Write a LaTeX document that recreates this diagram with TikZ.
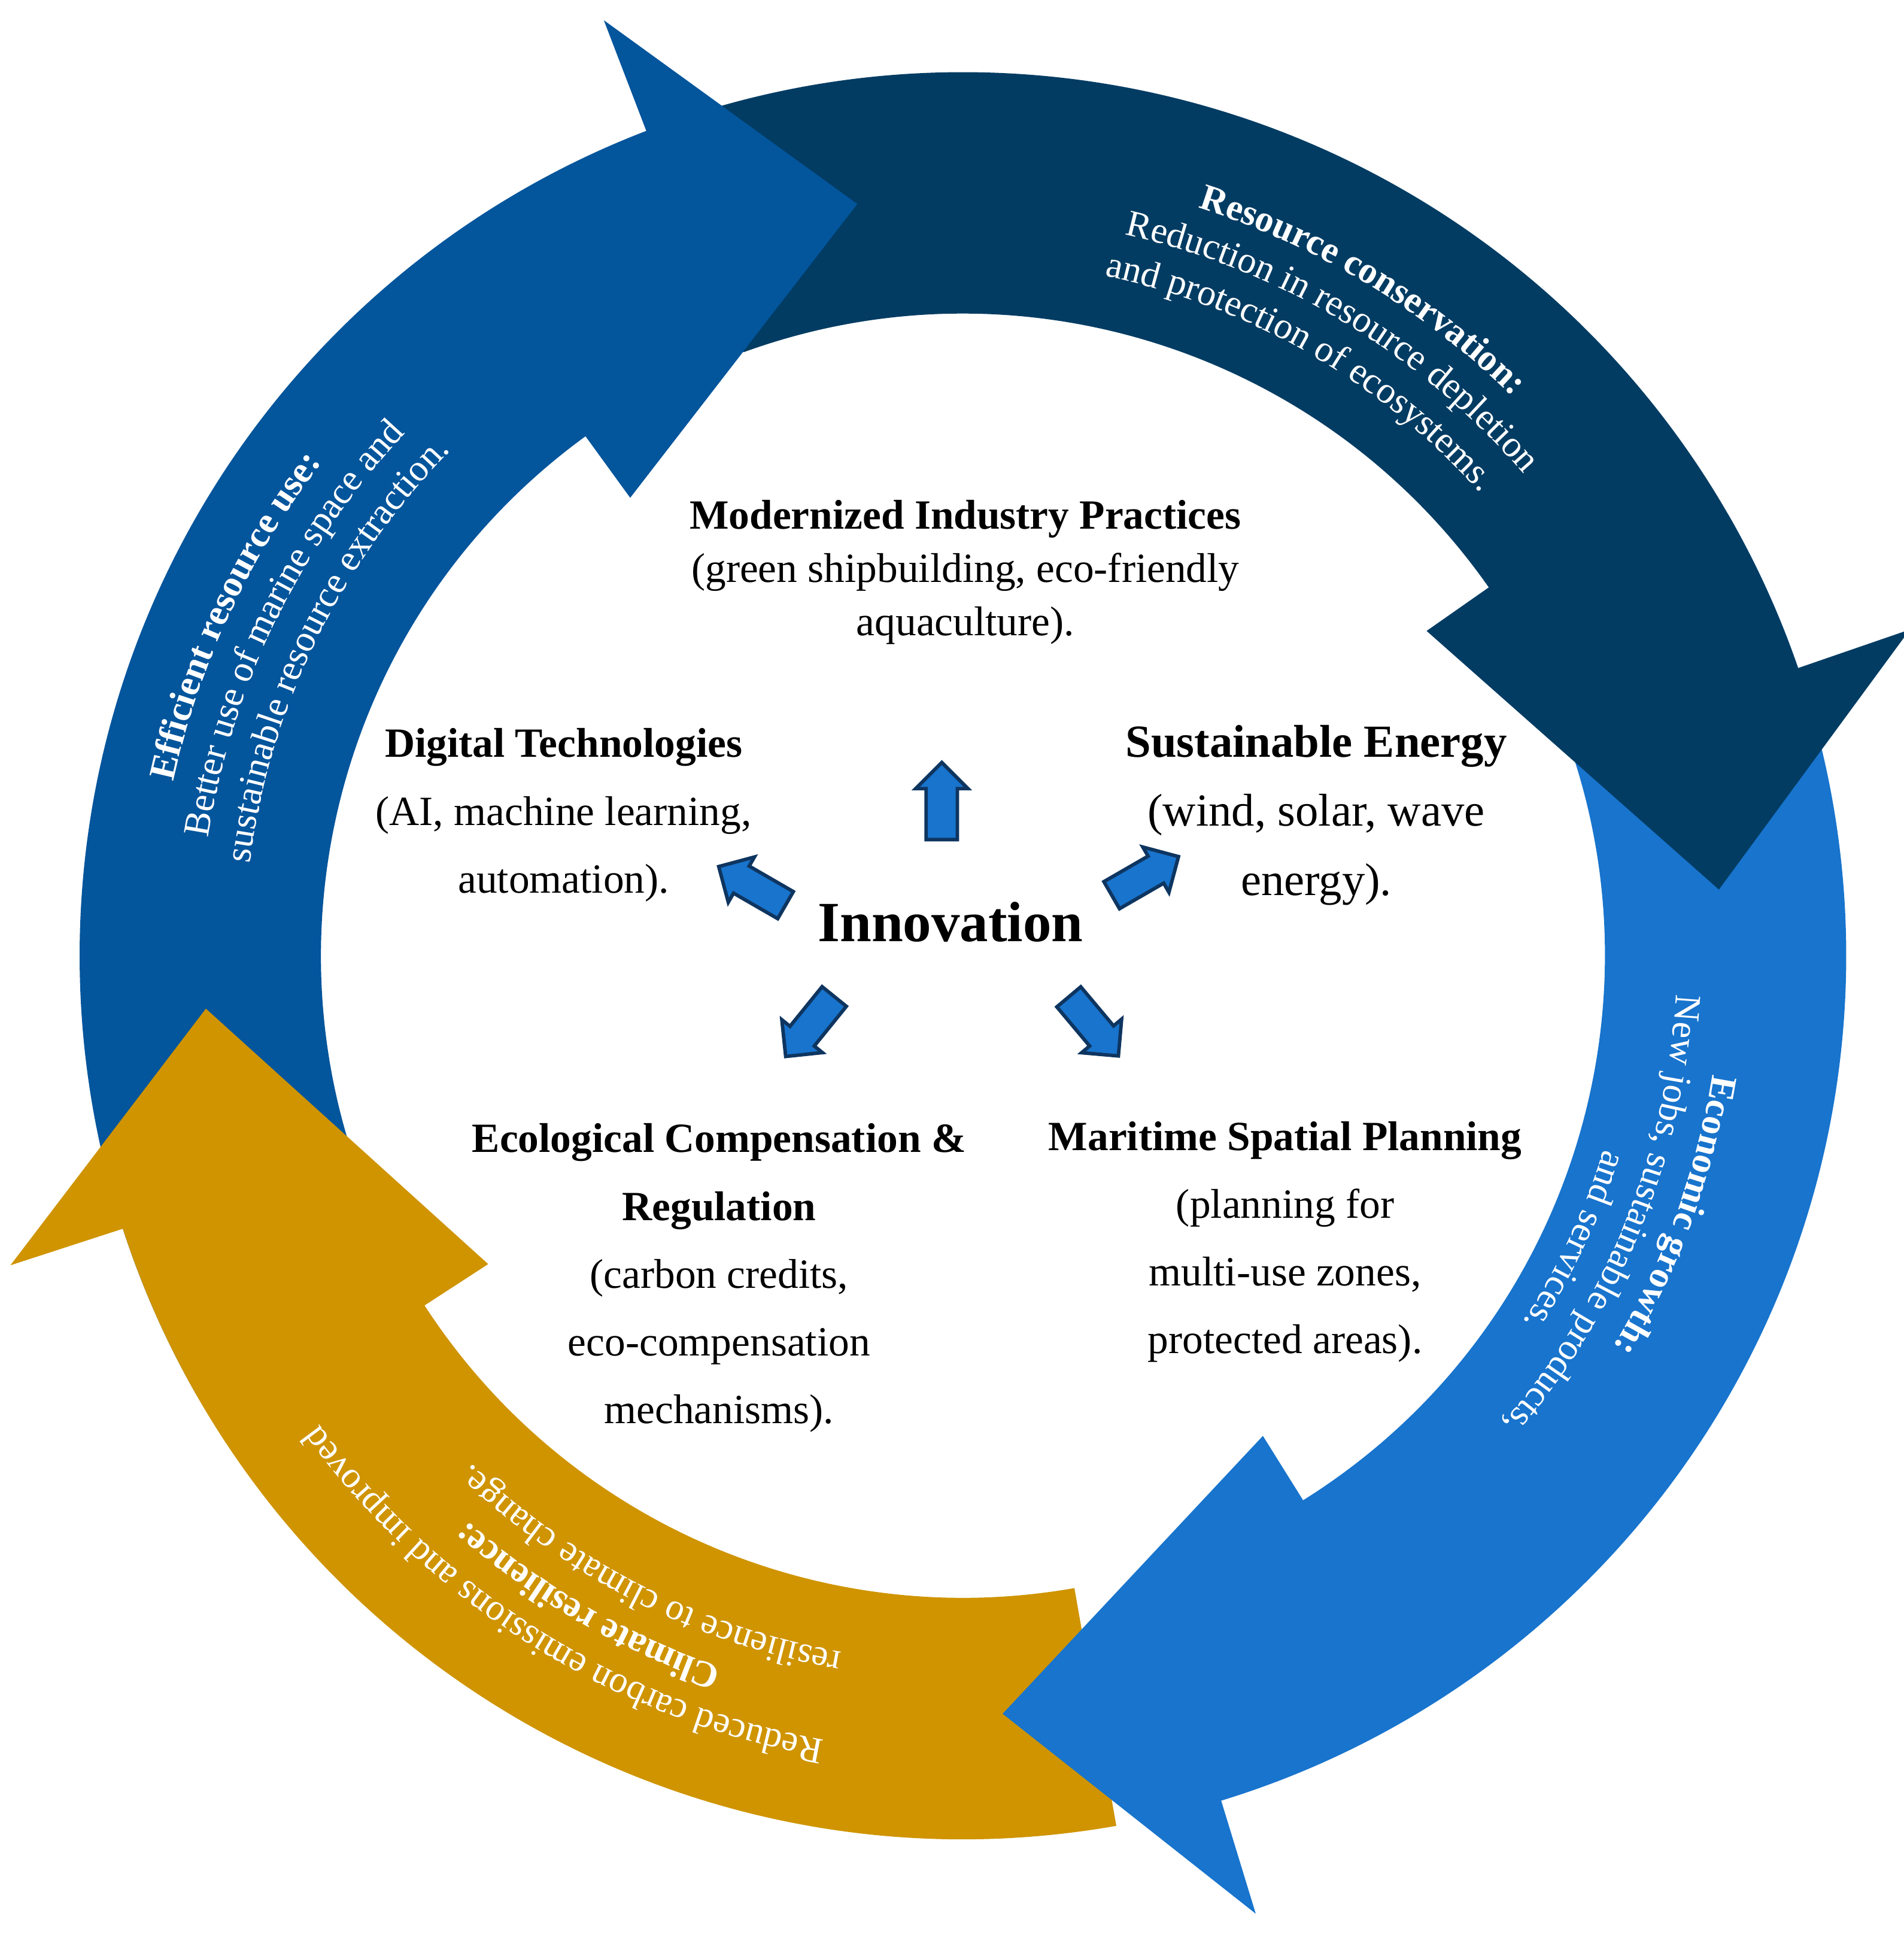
\documentclass[tikz,border=0pt]{standalone}
\usepackage{fontspec}
\setmainfont{Liberation Serif}
\usetikzlibrary{shapes.arrows,decorations.text}

\definecolor{navyblue}{HTML}{023C63}
\definecolor{midblue}{HTML}{03559C}
\definecolor{brightblue}{HTML}{1874CD}
\definecolor{goldbrown}{HTML}{CF9400}
\definecolor{arrowline}{HTML}{0E3560}

\def\Ro{7.1}\def\Ri{5.16}\def\Ho{8.05}\def\Hi{4.55}\def\Rt{6.1}
% ring piece: colour, start angle, outer base angle, inner base angle, tip angle
\newcommand{\ringarrow}[5]{%
  \fill[#1] (#2:\Ro) arc[start angle=#2, end angle=#3, radius=\Ro] -- (#3:\Ho) -- (#5:\Rt)
    -- (#4:\Hi) -- (#4:\Ri) arc[start angle=#4, end angle=#2, radius=\Ri] -- cycle;}
% text along the ring: radius, middle angle, text
\newcommand{\ringtext}[3]{%
  \path[decorate, decoration={text along path, text align=center, text color=white,
    text={#3}}] (#2+50:#1) arc[start angle=#2+50, end angle=#2-50, radius=#1];}

\begin{document}
\begin{tikzpicture}[
    every node/.style={align=center, inner sep=0pt},
    box/.style={font=\fontsize{9.5}{15.5}\selectfont},
    pointer/.style={single arrow, draw=arrowline, thick, fill=brightblue, minimum height=0.62cm,
      minimum width=0.42cm, single arrow head extend=0.07cm, inner sep=0.09cm}]
  \useasboundingbox (-7.74,-7.99) rectangle (7.56,7.68);

  \ringarrow{midblue}{210}{111}{126}{98}
  \ringarrow{goldbrown}{280}{198}{213}{184}
  \ringarrow{brightblue}{30}{-73}{-58}{-87}
  \ringarrow{navyblue}{110}{19}{35}{5}
  \fill[midblue] (111:\Ro) -- (111:\Ho) -- (98:\Rt) -- (126:\Hi) -- (126:\Ri) -- cycle;

  \ringtext{6.3}{59}{|\fontsize{8.5}{10}\selectfont\bfseries|Resource conservation:}
  \ringtext{5.94}{59}{|\fontsize{8.5}{10}\selectfont|Reduction in resource depletion}
  \ringtext{5.58}{60}{|\fontsize{8.5}{10}\selectfont|and protection of ecosystems.}
  \ringtext{6.1}{-20}{|\fontsize{8.5}{10}\selectfont\bfseries|Economic growth:}
  \ringtext{5.74}{-22}{|\fontsize{8.5}{10}\selectfont|New jobs, sustainable products,}
  \ringtext{5.38}{-25}{|\fontsize{8.5}{10}\selectfont|and services.}
  \ringtext{6.4}{238}{|\fontsize{8.5}{10}\selectfont|Reduced carbon emissions and improved}
  \ringtext{6.04}{240}{|\fontsize{8.5}{10}\selectfont\bfseries|Climate resilience:}
  \ringtext{5.68}{243}{|\fontsize{8.5}{10}\selectfont|resilience to climate change.}
  \ringtext{6.5}{155}{|\fontsize{8.5}{10}\selectfont\bfseries|Efficient resource use:}
  \ringtext{6.14}{154}{|\fontsize{8.5}{10}\selectfont|Better use of marine space and}
  \ringtext{5.78}{154}{|\fontsize{8.5}{10}\selectfont|sustainable resource extraction.}

  \node[font=\fontsize{13}{15}\selectfont\bfseries] (innov) at (-0.10,0.27) {Innovation};
  \node[font=\fontsize{9.5}{12.2}\selectfont] (industry) at (0.02,3.08)
    {\textbf{Modernized Industry Practices}\\(green shipbuilding, eco-friendly\\aquaculture).};
  \node[box] (digital) at (-3.21,1.13) {\textbf{Digital Technologies}\\(AI, machine learning,\\automation).};
  \node[font=\fontsize{10.5}{15.8}\selectfont] (energy) at (2.84,1.13) {\textbf{Sustainable Energy}\\(wind, solar, wave\\energy).};
  \node[box] (ecocomp) at (-1.96,-2.59) {\textbf{Ecological Compensation \&}\\\textbf{Regulation}\\(carbon credits,\\eco-compensation\\mechanisms).};
  \node[box] (spatial) at (2.59,-2.30) {\textbf{Maritime Spatial Planning}\\(planning for\\multi-use zones,\\protected areas).};

  \node[pointer, rotate=90] (up) at (-0.17,1.18) {};
  \node[pointer, rotate=150] (upleft) at (-1.64,0.53) {};
  \node[pointer, rotate=30] (upright) at (1.41,0.61) {};
  \node[pointer, rotate=231] (downleft) at (-1.19,-0.52) {};
  \node[pointer, rotate=-50] (downright) at (1.01,-0.52) {};
\end{tikzpicture}
\end{document}
